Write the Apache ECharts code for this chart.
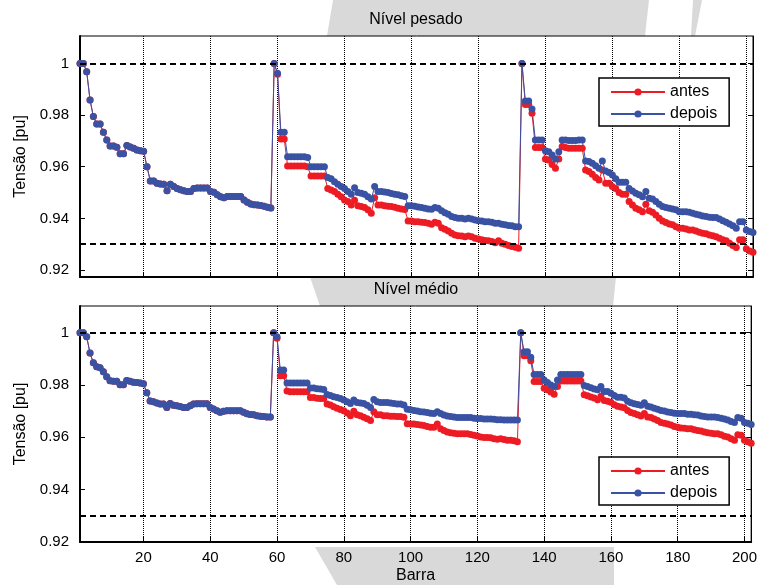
<!DOCTYPE html>
<html>
<head>
<meta charset="utf-8">
<script src="https://cdn.jsdelivr.net/npm/echarts@6/dist/echarts.min.js"></script>
<style>
html, body { margin: 0; padding: 0; background: #fff; }
#main { width: 760px; height: 585px; }
</style>
</head>
<body>
<div id="main"></div>
<script>
// tensão por barra (pu)
var pesadoDepois = [
    1.0000, 1.0000, 0.9968, 0.9858, 0.9794, 0.9765, 0.9765, 0.9733, 0.9703, 0.9680,
    0.9680, 0.9675, 0.9650, 0.9650, 0.9682, 0.9676, 0.9671, 0.9665, 0.9662, 0.9660,
    0.9600, 0.9545, 0.9545, 0.9536, 0.9533, 0.9532, 0.9507, 0.9532, 0.9523, 0.9516,
    0.9511, 0.9507, 0.9504, 0.9504, 0.9516, 0.9518, 0.9518, 0.9518, 0.9518, 0.9504,
    0.9501, 0.9491, 0.9484, 0.9480, 0.9485, 0.9485, 0.9485, 0.9485, 0.9485, 0.9471,
    0.9462, 0.9456, 0.9453, 0.9452, 0.9450, 0.9447, 0.9443, 0.9440, 1.0000, 0.9962,
    0.9733, 0.9733, 0.9639, 0.9639, 0.9639, 0.9639, 0.9639, 0.9639, 0.9636, 0.9600,
    0.9600, 0.9600, 0.9600, 0.9600, 0.9558, 0.9553, 0.9542, 0.9532, 0.9523, 0.9516,
    0.9504, 0.9493, 0.9519, 0.9500, 0.9497, 0.9493, 0.9484, 0.9475, 0.9523, 0.9504,
    0.9504, 0.9502, 0.9500, 0.9496, 0.9493, 0.9491, 0.9488, 0.9485, 0.9449, 0.9449,
    0.9447, 0.9444, 0.9442, 0.9439, 0.9436, 0.9435, 0.9442, 0.9439, 0.9429, 0.9422,
    0.9416, 0.9407, 0.9403, 0.9400, 0.9400, 0.9398, 0.9400, 0.9398, 0.9394, 0.9391,
    0.9390, 0.9387, 0.9387, 0.9385, 0.9381, 0.9381, 0.9377, 0.9375, 0.9372, 0.9371,
    0.9368, 0.9368, 1.0000, 0.9854, 0.9854, 0.9823, 0.9703, 0.9703, 0.9703, 0.9662,
    0.9658, 0.9645, 0.9630, 0.9658, 0.9703, 0.9703, 0.9701, 0.9701, 0.9701, 0.9703,
    0.9703, 0.9622, 0.9620, 0.9613, 0.9604, 0.9594, 0.9622, 0.9583, 0.9578, 0.9568,
    0.9553, 0.9540, 0.9540, 0.9540, 0.9516, 0.9506, 0.9497, 0.9491, 0.9484, 0.9504,
    0.9478, 0.9475, 0.9465, 0.9455, 0.9446, 0.9442, 0.9439, 0.9436, 0.9433, 0.9426,
    0.9426, 0.9426, 0.9424, 0.9420, 0.9416, 0.9413, 0.9409, 0.9407, 0.9404, 0.9403,
    0.9403, 0.9398, 0.9391, 0.9385, 0.9378, 0.9371, 0.9362, 0.9387, 0.9387, 0.9355,
    0.9349, 0.9345
];
var pesadoAntes = [
    1.0000, 1.0000, 0.9968, 0.9858, 0.9794, 0.9765, 0.9765, 0.9733, 0.9703, 0.9680,
    0.9680, 0.9675, 0.9650, 0.9650, 0.9682, 0.9676, 0.9671, 0.9665, 0.9662, 0.9660,
    0.9600, 0.9545, 0.9545, 0.9536, 0.9533, 0.9532, 0.9507, 0.9532, 0.9523, 0.9516,
    0.9511, 0.9507, 0.9504, 0.9504, 0.9516, 0.9518, 0.9518, 0.9518, 0.9518, 0.9504,
    0.9501, 0.9491, 0.9484, 0.9480, 0.9485, 0.9485, 0.9485, 0.9485, 0.9485, 0.9471,
    0.9462, 0.9456, 0.9453, 0.9452, 0.9450, 0.9447, 0.9443, 0.9440, 1.0000, 0.9958,
    0.9707, 0.9707, 0.9603, 0.9603, 0.9603, 0.9603, 0.9603, 0.9603, 0.9600, 0.9564,
    0.9564, 0.9564, 0.9564, 0.9564, 0.9516, 0.9510, 0.9504, 0.9493, 0.9484, 0.9471,
    0.9465, 0.9452, 0.9470, 0.9449, 0.9446, 0.9442, 0.9433, 0.9420, 0.9480, 0.9452,
    0.9452, 0.9449, 0.9447, 0.9446, 0.9443, 0.9439, 0.9436, 0.9434, 0.9390, 0.9390,
    0.9387, 0.9387, 0.9385, 0.9384, 0.9381, 0.9377, 0.9385, 0.9381, 0.9364, 0.9358,
    0.9351, 0.9342, 0.9336, 0.9333, 0.9332, 0.9329, 0.9332, 0.9329, 0.9323, 0.9320,
    0.9317, 0.9314, 0.9313, 0.9310, 0.9306, 0.9313, 0.9304, 0.9300, 0.9295, 0.9291,
    0.9288, 0.9284, 1.0000, 0.9841, 0.9841, 0.9807, 0.9674, 0.9674, 0.9674, 0.9630,
    0.9626, 0.9609, 0.9594, 0.9630, 0.9678, 0.9674, 0.9671, 0.9671, 0.9671, 0.9671,
    0.9671, 0.9587, 0.9581, 0.9571, 0.9558, 0.9549, 0.9587, 0.9536, 0.9536, 0.9523,
    0.9516, 0.9500, 0.9493, 0.9493, 0.9465, 0.9452, 0.9439, 0.9433, 0.9426, 0.9455,
    0.9429, 0.9424, 0.9413, 0.9400, 0.9390, 0.9384, 0.9378, 0.9375, 0.9368, 0.9362,
    0.9362, 0.9359, 0.9355, 0.9355, 0.9351, 0.9346, 0.9342, 0.9340, 0.9336, 0.9333,
    0.9329, 0.9323, 0.9317, 0.9313, 0.9304, 0.9295, 0.9287, 0.9317, 0.9317, 0.9282,
    0.9274, 0.9269
];
var medioDepois = [
    1.0000, 1.0000, 0.9984, 0.9922, 0.9885, 0.9870, 0.9866, 0.9851, 0.9832, 0.9816,
    0.9814, 0.9814, 0.9801, 0.9801, 0.9817, 0.9814, 0.9811, 0.9810, 0.9808, 0.9805,
    0.9770, 0.9739, 0.9736, 0.9731, 0.9727, 0.9727, 0.9714, 0.9729, 0.9723, 0.9721,
    0.9718, 0.9714, 0.9714, 0.9721, 0.9727, 0.9728, 0.9728, 0.9728, 0.9728, 0.9714,
    0.9708, 0.9702, 0.9696, 0.9700, 0.9702, 0.9702, 0.9702, 0.9702, 0.9702, 0.9696,
    0.9690, 0.9687, 0.9686, 0.9683, 0.9681, 0.9680, 0.9678, 0.9678, 1.0000, 0.9984,
    0.9857, 0.9857, 0.9808, 0.9808, 0.9808, 0.9808, 0.9808, 0.9808, 0.9808, 0.9789,
    0.9789, 0.9786, 0.9785, 0.9783, 0.9764, 0.9760, 0.9755, 0.9752, 0.9748, 0.9743,
    0.9736, 0.9729, 0.9743, 0.9733, 0.9731, 0.9729, 0.9723, 0.9714, 0.9745, 0.9736,
    0.9733, 0.9733, 0.9733, 0.9731, 0.9729, 0.9727, 0.9727, 0.9724, 0.9707, 0.9705,
    0.9703, 0.9701, 0.9698, 0.9697, 0.9695, 0.9692, 0.9691, 0.9698, 0.9691, 0.9685,
    0.9682, 0.9680, 0.9678, 0.9676, 0.9676, 0.9676, 0.9676, 0.9676, 0.9673, 0.9672,
    0.9672, 0.9670, 0.9670, 0.9670, 0.9669, 0.9667, 0.9667, 0.9666, 0.9666, 0.9666,
    0.9666, 0.9666, 1.0000, 0.9927, 0.9927, 0.9906, 0.9840, 0.9840, 0.9840, 0.9819,
    0.9810, 0.9800, 0.9794, 0.9819, 0.9840, 0.9840, 0.9840, 0.9840, 0.9840, 0.9840,
    0.9840, 0.9798, 0.9794, 0.9790, 0.9785, 0.9782, 0.9794, 0.9775, 0.9775, 0.9769,
    0.9760, 0.9753, 0.9753, 0.9750, 0.9738, 0.9732, 0.9728, 0.9726, 0.9723, 0.9732,
    0.9719, 0.9716, 0.9711, 0.9707, 0.9703, 0.9701, 0.9697, 0.9695, 0.9692, 0.9691,
    0.9691, 0.9691, 0.9688, 0.9688, 0.9686, 0.9685, 0.9682, 0.9680, 0.9678, 0.9678,
    0.9678, 0.9676, 0.9673, 0.9670, 0.9666, 0.9661, 0.9657, 0.9676, 0.9673, 0.9657,
    0.9654, 0.9649
];
var medioAntes = [
    1.0000, 1.0000, 0.9984, 0.9922, 0.9885, 0.9870, 0.9866, 0.9851, 0.9832, 0.9816,
    0.9814, 0.9814, 0.9801, 0.9801, 0.9817, 0.9814, 0.9811, 0.9810, 0.9808, 0.9805,
    0.9770, 0.9739, 0.9736, 0.9731, 0.9727, 0.9727, 0.9714, 0.9729, 0.9723, 0.9721,
    0.9718, 0.9714, 0.9714, 0.9721, 0.9727, 0.9728, 0.9728, 0.9728, 0.9728, 0.9714,
    0.9708, 0.9702, 0.9696, 0.9700, 0.9702, 0.9702, 0.9702, 0.9702, 0.9702, 0.9696,
    0.9690, 0.9687, 0.9686, 0.9683, 0.9681, 0.9680, 0.9678, 0.9678, 1.0000, 0.9979,
    0.9835, 0.9835, 0.9777, 0.9774, 0.9774, 0.9774, 0.9774, 0.9774, 0.9774, 0.9752,
    0.9752, 0.9749, 0.9748, 0.9748, 0.9727, 0.9724, 0.9717, 0.9711, 0.9706, 0.9702,
    0.9693, 0.9683, 0.9700, 0.9686, 0.9683, 0.9677, 0.9671, 0.9664, 0.9698, 0.9686,
    0.9686, 0.9683, 0.9683, 0.9681, 0.9681, 0.9680, 0.9680, 0.9677, 0.9652, 0.9651,
    0.9651, 0.9649, 0.9647, 0.9645, 0.9641, 0.9639, 0.9639, 0.9651, 0.9633, 0.9626,
    0.9620, 0.9618, 0.9616, 0.9614, 0.9614, 0.9614, 0.9614, 0.9611, 0.9608, 0.9605,
    0.9601, 0.9599, 0.9599, 0.9598, 0.9595, 0.9593, 0.9595, 0.9592, 0.9589, 0.9589,
    0.9587, 0.9583, 1.0000, 0.9912, 0.9912, 0.9893, 0.9813, 0.9813, 0.9813, 0.9788,
    0.9782, 0.9773, 0.9765, 0.9794, 0.9815, 0.9815, 0.9815, 0.9815, 0.9815, 0.9815,
    0.9815, 0.9763, 0.9759, 0.9754, 0.9750, 0.9744, 0.9757, 0.9741, 0.9738, 0.9734,
    0.9725, 0.9719, 0.9716, 0.9713, 0.9703, 0.9695, 0.9691, 0.9686, 0.9682, 0.9691,
    0.9678, 0.9676, 0.9670, 0.9664, 0.9657, 0.9654, 0.9651, 0.9647, 0.9641, 0.9639,
    0.9636, 0.9635, 0.9633, 0.9633, 0.9629, 0.9626, 0.9624, 0.9620, 0.9618, 0.9616,
    0.9614, 0.9614, 0.9610, 0.9604, 0.9601, 0.9595, 0.9589, 0.9610, 0.9608, 0.9589,
    0.9583, 0.9577
];

var limites = [1, 0.93];                         // linhas tracejadas
var ticksX = [20, 40, 60, 80, 100, 120, 140, 160, 180, 200];
var ticksY = [0.92, 0.94, 0.96, 0.98, 1];
var titulos = ['Nível pesado', 'Nível médio'];

var fonte = 'Liberation Sans';
var vermelho = '#ED1C24';
var azul = '#3A52A3';

// [barra, tensão]
function pares(vals) {
    return vals.map(function(v, i) { return [i + 1, v]; });
}

var myChart = echarts.init(document.getElementById('main'));

var grids = [
    { left: 80, top: 36, width: 673, height: 241 },
    { left: 80, top: 306, width: 673, height: 241 }
];
var yRange = [[0.9173, 1.0106], [0.92, 1.0102]];

var xAxes = [], yAxes = [];
grids.forEach(function(g, k) {
    g.show = true;
    g.borderColor = '#000';
    g.borderWidth = 1;
    xAxes.push({
        type: 'value', gridIndex: k, min: 1, max: 202,
        axisLine: { lineStyle: { color: '#000', width: 2 } },
        axisTick: { inside: true, length: 5, customValues: ticksX, lineStyle: { color: '#000' } },
        axisLabel: { show: k == 1, customValues: ticksX, color: '#000', fontSize: 15, fontFamily: fonte, margin: 8 },
        splitLine: { show: true, lineStyle: { color: '#000', type: [1, 1], width: 1 } },
        name: k == 1 ? 'Barra' : '',
        nameLocation: 'middle', nameGap: 26,
        nameTextStyle: { color: '#000', fontSize: 16, fontFamily: fonte }
    });
    yAxes.push({
        type: 'value', gridIndex: k, min: yRange[k][0], max: yRange[k][1],
        axisLine: { lineStyle: { color: '#000', width: 2 } },
        axisTick: { inside: true, length: 5, customValues: ticksY, lineStyle: { color: '#000' } },
        axisLabel: { customValues: ticksY, color: '#000', fontSize: 15, fontFamily: fonte, margin: 11 },
        splitLine: { show: false },
        name: 'Tensão [pu]', nameLocation: 'middle', nameGap: 51,
        nameTextStyle: { color: '#000', fontSize: 16, fontFamily: fonte }
    });
    yAxes.push({
        type: 'value', gridIndex: k, position: 'right', min: yRange[k][0], max: yRange[k][1],
        axisLine: { lineStyle: { color: '#000', width: 1 } },
        axisTick: { inside: true, length: 5, customValues: ticksY, lineStyle: { color: '#000' } },
        axisLabel: { show: false },
        splitLine: { show: false }
    });
});

function serie(nome, vals, k, cor, comLimites) {
    var s = {
        name: nome, type: 'line', xAxisIndex: k, yAxisIndex: k * 2,
        data: pares(vals),
        symbol: 'circle', symbolSize: 7,
        itemStyle: { color: cor },
        lineStyle: { color: cor, width: 1 },
        animation: false
    };
    if (comLimites) {
        s.markLine = {
            silent: true, symbol: 'none', animation: false,
            label: { show: false },
            lineStyle: { color: '#000', type: [6, 4], width: 2 },
            data: limites.map(function(v) { return { yAxis: v }; })
        };
    }
    return s;
}

var legendaBase = {
    orient: 'vertical', left: 599,
    data: ['antes', 'depois'],
    backgroundColor: '#fff', borderColor: '#000', borderWidth: 1.5, borderRadius: 0,
    padding: [6, 12, 4, 11],
    itemWidth: 54, itemHeight: 9, itemGap: 6,
    textStyle: { color: '#000', fontSize: 16, fontFamily: fonte, lineHeight: 16 },
    selectedMode: false
};

var cinza = '#d9d9d9';
myChart.setOption({
    backgroundColor: '#fff',
    animation: false,
    graphic: [
        { type: 'polygon', z: -10, shape: { points: [[333, 0], [649, 0], [645, 36], [327, 36]] }, style: { fill: cinza } },
        { type: 'polygon', z: -10, shape: { points: [[693, 0], [702, 0], [695, 36], [691, 36]] }, style: { fill: cinza } },
        { type: 'polygon', z: -10, shape: { points: [[310, 277], [616, 277], [613, 306], [320, 306]] }, style: { fill: cinza } },
        { type: 'polygon', z: -10, shape: { points: [[315, 547], [614, 547], [614, 585], [337, 585]] }, style: { fill: cinza } },
        { type: 'text', x: 416, y: 20, style: { text: titulos[0], fill: '#000', font: '16px ' + fonte, textAlign: 'center', textVerticalAlign: 'middle' } },
        { type: 'text', x: 416, y: 290, style: { text: titulos[1], fill: '#000', font: '16px ' + fonte, textAlign: 'center', textVerticalAlign: 'middle' } }
    ],
    grid: grids,
    xAxis: xAxes,
    yAxis: yAxes,
    legend: [
        Object.assign({}, legendaBase, { top: 78 }),
        Object.assign({}, legendaBase, { top: 457 })
    ],
    series: [
        serie('antes', pesadoAntes, 0, vermelho, true),
        serie('depois', pesadoDepois, 0, azul, false),
        serie('antes', medioAntes, 1, vermelho, true),
        serie('depois', medioDepois, 1, azul, false)
    ]
});
</script>
</body>
</html>
